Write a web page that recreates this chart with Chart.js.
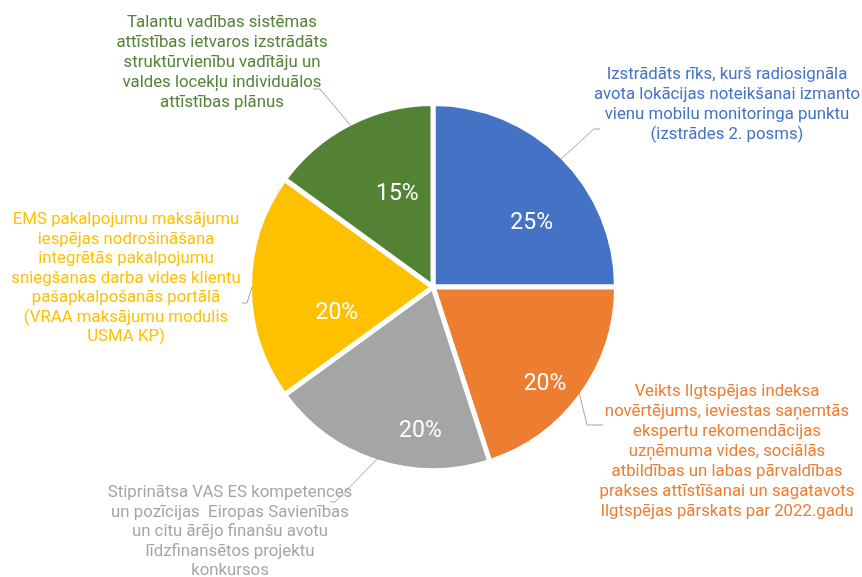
<!DOCTYPE html>
<html>
<head>
<meta charset="utf-8">
<script src="https://cdn.jsdelivr.net/npm/chart.js@4"></script>
<style>
  html, body { margin: 0; padding: 0; background: #fff; }
  #wrap { width: 862px; height: 577px; }
</style>
</head>
<body>
<div id="wrap"><canvas id="pieChart"></canvas></div>
<script>
// data
const categories = [
  ['Izstrādāts rīks, kurš radiosignāla', 'avota lokācijas noteikšanai izmanto', 'vienu mobilu monitoringa punktu', '(izstrādes 2. posms)'],
  ['Veikts Ilgtspējas indeksa', 'novērtējums, ieviestas saņemtās', 'ekspertu rekomendācijas', 'uzņēmuma vides, sociālās', 'atbildības un labas pārvaldības', 'prakses attīstīšanai un sagatavots', 'Ilgtspējas pārskats par 2022.gadu'],
  ['Stiprinātsa VAS ES kompetences', 'un pozīcijas  Eiropas Savienības', 'un citu ārējo finanšu avotu', 'līdzfinansētos projektu', 'konkursos'],
  ['EMS pakalpojumu maksājumu', 'iespējas nodrošināšana', 'integrētās pakalpojumu', 'sniegšanas darba vides klientu', 'pašapkalpošanās portālā', '(VRAA maksājumu modulis', 'USMA KP)'],
  ['Talantu vadības sistēmas', 'attīstības ietvaros izstrādāts', 'struktūrvienību vadītāju un', 'valdes locekļu individuālos', 'attīstības plānus']
];
const shares = [25, 20, 20, 20, 15];
const colors = ['#4472C4', '#ED7D31', '#A5A5A5', '#FFC000', '#548235'];

// label placement (relative to pie centre)
const pctPlace = [[0.65, 12], [0.82, 5], [0.80, -13], [0.55, -15], [0.55, 6]]; // [radius fraction, angle shift deg]
const outerPlace = [
  { tx: 294, ty: -212, lh: 20, elbow: [161, -158], end: [167, -158] },
  { tx: 294, ty: 105, lh: 20, elbow: [154, 138], end: [170, 138] },
  { tx: -203, ty: 206, lh: 19.5, elbow: [-98, 215], end: [-103, 215] },
  { tx: -307, ty: -67, lh: 19.5, elbow: [-186, 16], end: [-191, 16] },
  { tx: -211, ty: -264, lh: 20, elbow: [-113, -198], end: [-120, -198] }
];

const pieLabels = {
  id: 'pieLabels',
  afterDatasetsDraw(chart) {
    const ctx = chart.ctx;
    const arcs = chart.getDatasetMeta(0).data;
    ctx.save();
    arcs.forEach((arc, i) => {
      const p = arc.getProps(['x', 'y', 'startAngle', 'endAngle', 'outerRadius']);
      const mid = (p.startAngle + p.endAngle) / 2;
      const r = p.outerRadius - 2.5;

      // percent inside
      const a = mid + pctPlace[i][1] * Math.PI / 180;
      const rr = r * pctPlace[i][0];
      ctx.fillStyle = '#fff';
      ctx.font = '23px Roboto';
      ctx.textAlign = 'center';
      ctx.textBaseline = 'middle';
      ctx.fillText(shares[i] + '%', p.x + Math.cos(a) * rr, p.y + Math.sin(a) * rr);

      // leader line
      const o = outerPlace[i];
      ctx.strokeStyle = '#A5A5A5';
      ctx.lineWidth = 1;
      ctx.beginPath();
      ctx.moveTo(p.x + Math.cos(mid) * r, p.y + Math.sin(mid) * r);
      ctx.lineTo(p.x + o.elbow[0], p.y + o.elbow[1]);
      ctx.lineTo(p.x + o.end[0], p.y + o.end[1]);
      ctx.stroke();

      // category text
      ctx.fillStyle = colors[i];
      ctx.font = '16.8px Roboto';
      categories[i].forEach((line, k) => {
        ctx.fillText(line, p.x + o.tx, p.y + o.ty + k * o.lh);
      });
    });
    ctx.restore();
  }
};

const pieConfig = {
  type: 'pie',
  data: {
    labels: categories,
    datasets: [{
      data: shares,
      backgroundColor: colors,
      borderColor: '#fff',
      borderWidth: 5
    }]
  },
  options: {
    responsive: true,
    maintainAspectRatio: false,
    animation: false,
    radius: 183.5,
    layout: { padding: { left: 4, top: 0, right: 0, bottom: 3 } },
    plugins: {
      legend: { display: false },
      tooltip: { enabled: false }
    }
  },
  plugins: [pieLabels]
};

const myPieChart = new Chart(document.getElementById('pieChart'), pieConfig);
</script>
</body>
</html>
